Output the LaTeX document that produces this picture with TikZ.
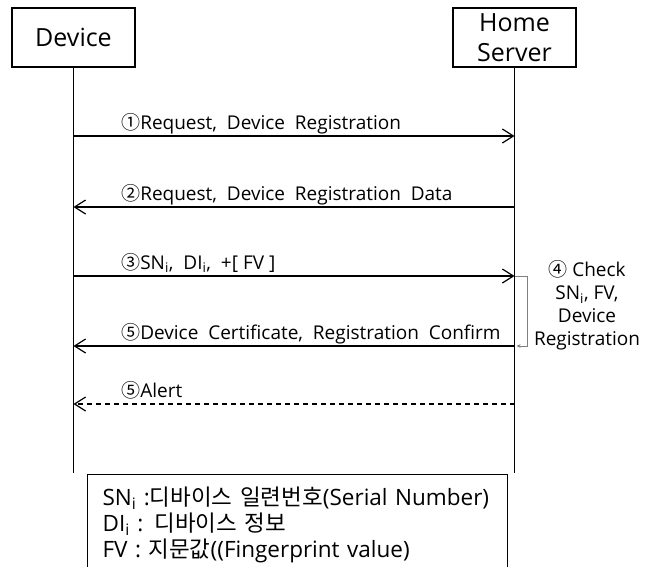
\documentclass[tikz,border=0pt]{standalone}
\usepackage{fontspec}
\setmainfont{Open Sans}
\newfontfamily\kr{Noto Sans CJK KR}
\usetikzlibrary{arrows.meta}

\begin{document}
\begin{tikzpicture}[x=1pt,y=-1pt,line width=1.2pt,
    actor/.style={draw, minimum width=123pt, minimum height=59pt, align=center,
      font=\fontsize{25}{30}\selectfont},
    life/.style={line width=1.3pt},
    msg/.style={-{Straight Barb[length=11pt,width=14pt]}},
    reply/.style={msg, dash pattern=on 5pt off 4pt},
    lbl/.style={anchor=base west, inner sep=0pt, font=\fontsize{19}{22}\selectfont},
    selfcheck/.style={gray, line width=0.6pt, -{Stealth[length=4pt,width=3.5pt]}},
    note/.style={align=center, inner sep=0pt, font=\fontsize{19}{23}\selectfont},
    key/.style={draw, anchor=north west, minimum width=417pt, minimum height=100pt,
      align=left, text width=390pt, inner xsep=15pt, inner ysep=7pt,
      font=\fontsize{22.5}{26}\selectfont}]
  \useasboundingbox (0,0) rectangle (657,566);

  \node[actor] (Dev) at (73.5, 37.5) {Device};
  \node[actor] (HS) at (514.5, 37.5) {Home\\Server};

  % lifelines
  \coordinate (DevEnd) at (73.5, 473);
  \coordinate (HSEnd) at (514.5, 473);
  \draw[life] (Dev) -- (DevEnd);
  \draw[life] (HS) -- (HSEnd);

  % message levels
  \foreach \n/\y in {1/136, 2/207, 3/276, 5/346, 6/404} {
    \coordinate (D\n) at (73.5, \y);
    \coordinate (S\n) at (514.5, \y);
  }

  \draw[msg] (D1) -- (S1) node[lbl, pos=0.107, yshift=7pt] (L1) {{\kr ①}Request,\ \ Device\ \ Registration};
  \draw[msg] (S2) -- (D2) node[lbl, pos=0.893, yshift=7pt] (L2) {{\kr ②}Request,\ \ Device\ \ Registration\ \ Data};
  \draw[msg] (D3) -- (S3) node[lbl, pos=0.107, yshift=7pt] (L3) {{\kr ③}SN\textsubscript{i},\ \ DI\textsubscript{i},\ \ +[\ FV\ ]};
  \draw[msg] (S5) -- (D5) node[lbl, pos=0.893, yshift=7pt] (L5) {{\kr ⑤}Device\ \ Certificate,\ \ Registration\ \ Confirm};
  \draw[reply] (S6) -- (D6) node[lbl, pos=0.893, yshift=7pt] (L6) {{\kr ⑤}Alert};

  % check on the server side
  \draw[selfcheck] (S3) -- ++(13,0) |- ([xshift=2pt]S5);
  \node[note] (Chk) at (587, 305) {{\kr ④}\ Check\\SN\textsubscript{i}, FV,\\Device\\Registration};

  % legend
  \node[key] (Key) at (87, 474) {SN\textsubscript{i} :{\kr 디바이스 일련번호}(Serial Number)\\
    DI\textsubscript{i} : {\kr 디바이스 정보}\\
    FV : {\kr 지문값}((Fingerprint value)};
\end{tikzpicture}
\end{document}
